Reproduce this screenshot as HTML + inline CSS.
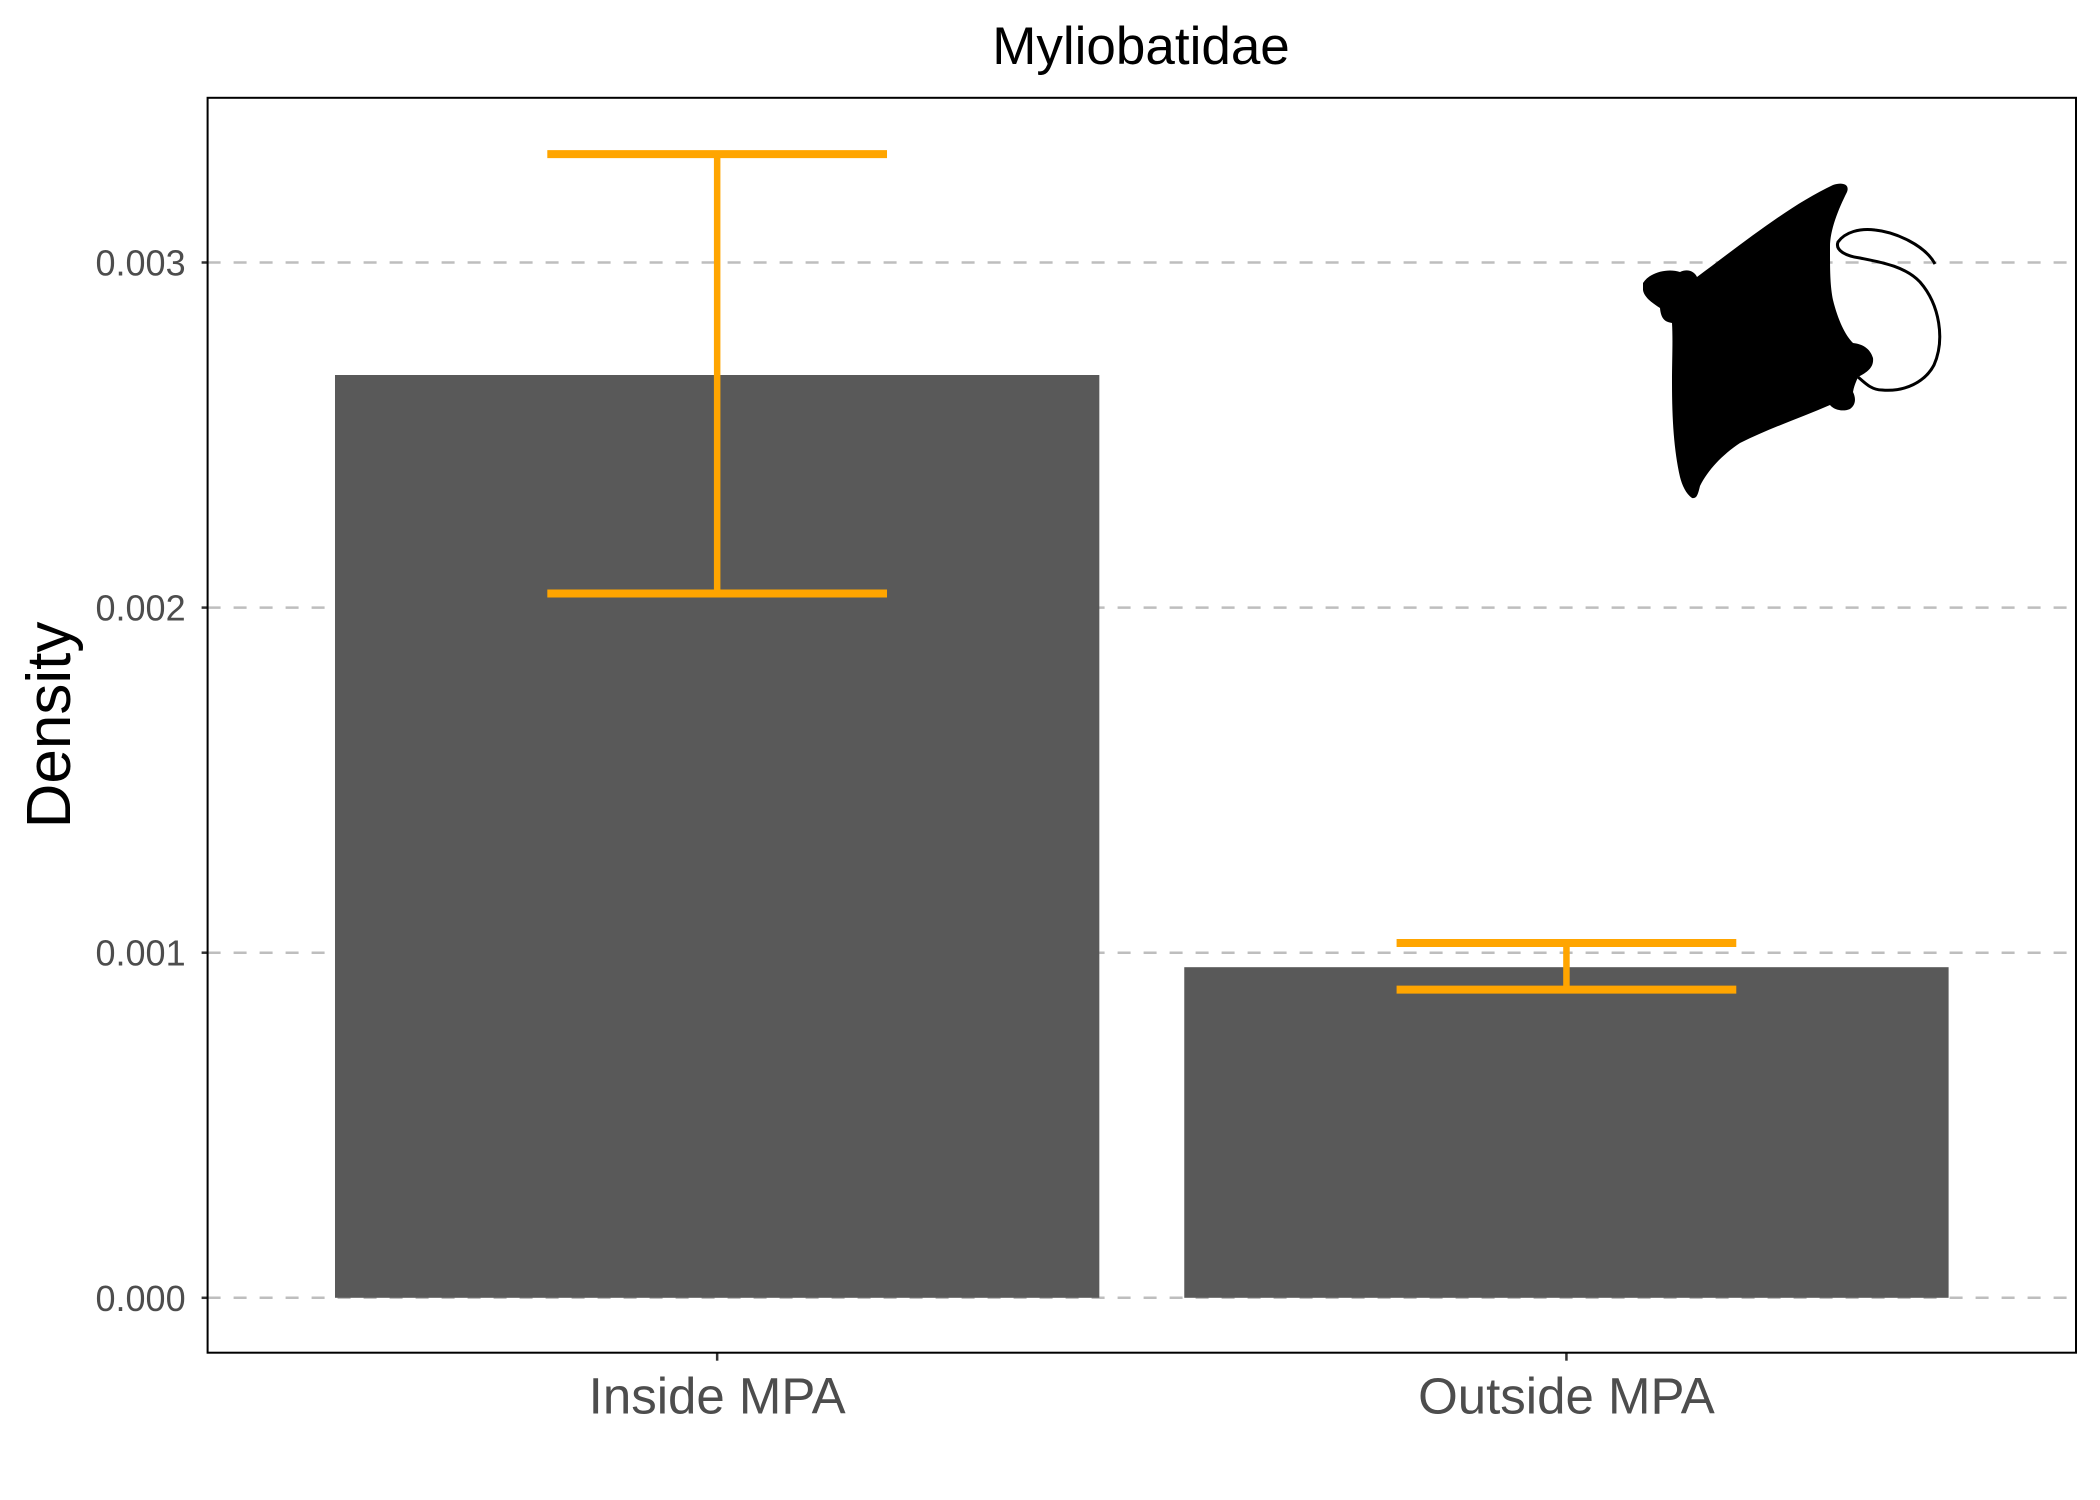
<!DOCTYPE html>
<html><head><meta charset="utf-8">
<style>
html,body{margin:0;padding:0;background:#fff;}
svg{display:block;font-family:"Liberation Sans",Arial,sans-serif;}
</style></head>
<body>
<svg id="chart" width="2100" height="1500" viewBox="0 0 2100 1500">
  <rect x="0" y="0" width="2100" height="1500" fill="#fff"/>
  <text x="1141" y="64" font-size="53" text-anchor="middle" fill="#000">Myliobatidae</text>
  <text transform="translate(70,725) rotate(-90)" font-size="62" text-anchor="middle" fill="#000">Density</text>
  <g id="grid"></g>
  <g id="bars"></g>
  <g id="errs"></g>
  <g id="yaxis"></g>
  <g id="xaxis"></g>
  <g>
    <path d="M1643,283 C1650,272 1668,268 1680,272 C1688,268 1695,272 1697,277 C1740,245 1790,205 1833,185 C1842,182 1850,184 1847,192 C1838,210 1830,230 1830,247 C1830,270 1830,285 1833,300 C1838,320 1845,335 1853,343 C1862,344 1870,348 1873,358 C1874,367 1868,372 1858,377 C1856,382 1854,386 1853,392 C1856,398 1856,405 1850,409 C1843,412 1834,410 1830,405 C1800,418 1770,428 1740,443 C1722,455 1708,470 1700,486 C1698,494 1697,499 1692,498 C1686,494 1682,485 1680,477 C1674,450 1672,420 1672,383 C1672,360 1673,340 1672,323 C1666,322 1661,320 1660,308 C1652,303 1644,297 1643,290 Z" fill="#000"/>
    <path d="M1858,377 C1866,384 1872,390 1882,390 C1905,392 1925,382 1934,365 C1945,340 1940,305 1920,282 C1905,266 1880,262 1860,258 C1845,256 1835,250 1838,242 C1845,232 1860,228 1875,230 C1895,232 1925,245 1935,264" fill="none" stroke="#000" stroke-width="3"/>
  </g>
  <rect x="207.6" y="97.8" width="1868.4" height="1254.9" fill="none" stroke="#000" stroke-width="2"/>
</svg>
<script>
const categories = ["Inside MPA", "Outside MPA"];
const means = [0.002674, 0.000958];
const upper = [0.003314, 0.001028];
const lower = [0.002041, 0.000893];
const yTicks = [0, 0.001, 0.002, 0.003];
const yTickLabels = ["0.000", "0.001", "0.002", "0.003"];

const NS = "http://www.w3.org/2000/svg";
const pL = 207.6, pR = 2076, pT = 97.8, pB = 1352.7;
const y0px = 1297.8, perUnit = 345100;
function yScale(v){ return y0px - v * perUnit; }
const unit = (pR - pL) / (categories.length - 1 + 1.2);
function xScale(i){ return pL + (i + 0.6) * unit; }
function mk(tag, attrs, parent){
  const e = document.createElementNS(NS, tag);
  for (const k in attrs) e.setAttribute(k, attrs[k]);
  parent.appendChild(e);
  return e;
}
const grid = document.getElementById('grid');
const bars = document.getElementById('bars');
const errs = document.getElementById('errs');
const yaxis = document.getElementById('yaxis');
const xaxis = document.getElementById('xaxis');

yTicks.forEach((t, i) => {
  const y = yScale(t);
  const g = mk('line', {x1: pL, x2: pR, y1: y, y2: y, stroke: '#bebebe', 'stroke-width': 2.5, 'stroke-dasharray': '13,13'}, grid);
  
  
  const tk = mk('line', {x1: pL - 6, x2: pL, y1: y, y2: y, stroke: '#333', 'stroke-width': 2.5}, yaxis);
  
  
  const lb = mk('text', {x: pL - 22, y: y + 13, 'font-size': 36, 'text-anchor': 'end', fill: '#4d4d4d'}, yaxis);
  lb.textContent = yTickLabels[i];
  
  
});

categories.forEach((c, i) => {
  const cx = xScale(i);
  const bw = 0.9 * unit;
  const b = mk('rect', {x: cx - bw/2, y: yScale(means[i]), width: bw, height: yScale(0) - yScale(means[i]), fill: '#595959'}, bars);
  
  
  const cw = 0.4 * unit;
  const v = mk('line', {x1: cx, x2: cx, y1: yScale(upper[i]), y2: yScale(lower[i]), stroke: '#ffa500', 'stroke-width': 6.5}, errs);
  
  
  [upper[i], lower[i]].forEach(val => {
    const h = mk('line', {x1: cx - cw/2, x2: cx + cw/2, y1: yScale(val), y2: yScale(val), stroke: '#ffa500', 'stroke-width': 8}, errs);
    
    
  });
  const tk = mk('line', {x1: cx, x2: cx, y1: pB, y2: pB + 8, stroke: '#333', 'stroke-width': 2.5}, xaxis);
  
  
  const lb = mk('text', {x: cx, y: pB + 61, 'font-size': 51, 'text-anchor': 'middle', fill: '#4d4d4d'}, xaxis);
  lb.textContent = c;
  
  
});
</script>
</body></html>
